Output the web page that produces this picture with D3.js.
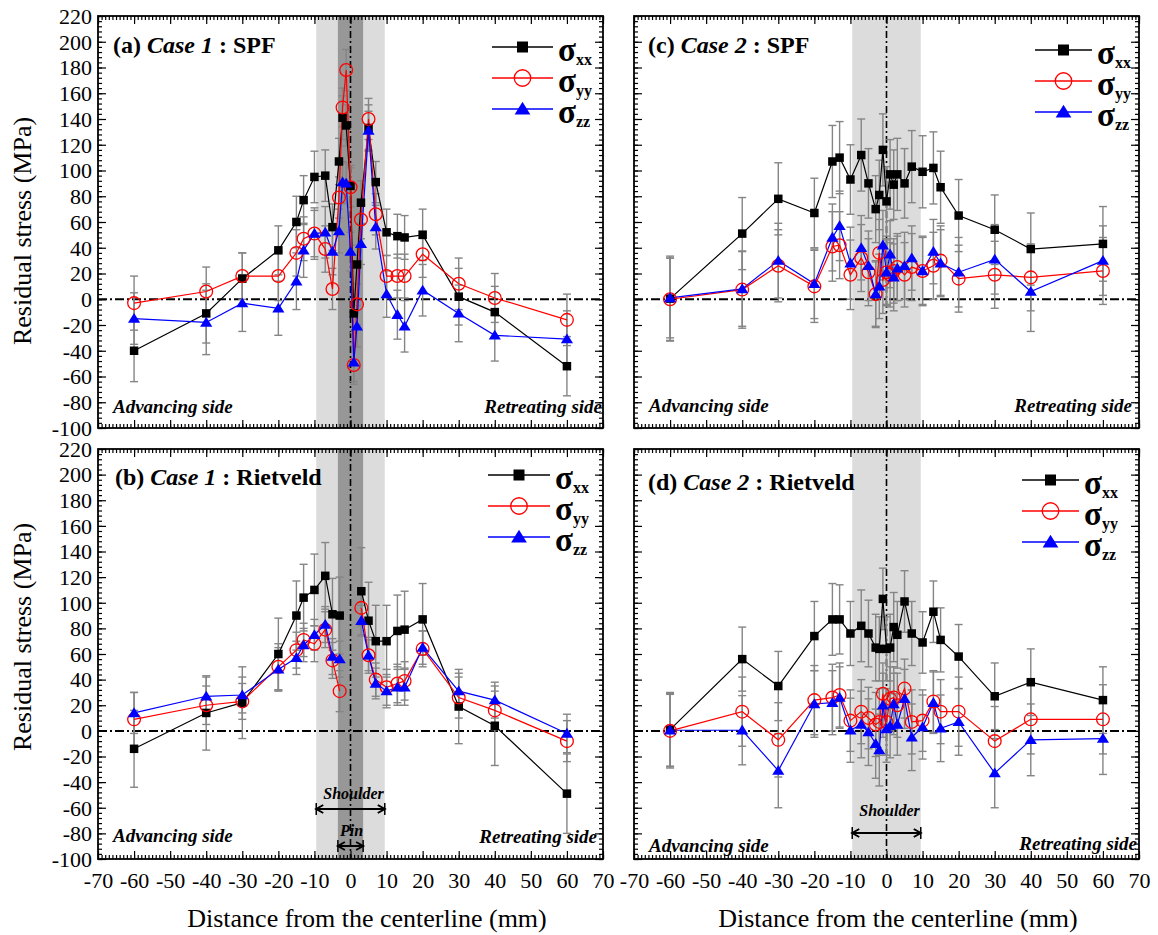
<!DOCTYPE html>
<html>
<head>
<meta charset="utf-8">
<script src="https://cdn.jsdelivr.net/npm/d3@7"></script>
<style>
  body { margin: 0; background: #fff; }
  svg { display: block; }
  text { font-family: "Liberation Serif", "Times New Roman", serif; }
</style>
</head>
<body>
<div id="chart"></div>
<script>
// tick labels
var xTicks = [-70, -60, -50, -40, -30, -20, -10, 0, 10, 20, 30, 40, 50, 60, 70]
var yTicks = [-100, -80, -60, -40, -20, 0, 20, 40, 60, 80, 100, 120, 140, 160, 180, 200, 220]

// tool zones (mm)
var shoulder = [-9.5, 9.5]
var pin = [-3.5, 3.5]

// (a) Case 1 : SPF
var xA = [-60, -40, -30, -20, -15, -13, -10, -7, -5, -3.2, -2.2, -1.2, 0, 0.9, 1.8, 2.9, 5, 7, 10, 13, 15, 20, 30, 40, 60]
var sxxA = [-40, -11, 16, 38, 60, 77, 95, 96, 56, 107, 141, 135, 88, -11, 27, 75, 133, 91, 52, 49, 48, 50, 2, -10, -52]
var syyA = [-3, 6, 18, 18, 36, 47, 51, 39, 8, 79, 149, 178, 87, -51, -4, 62, 140, 66, 18, 18, 18, 35, 12, 1, -16]
var szzA = [-15, -18, -3, -7, 14, 38, 51, 52, 37, 53, 91, 90, 37, -49, -21, 43, 131, 56, 4, -12, -21, 7, -11, -28, -31]
var exxA = [24, 23, 20, 19, 20, 19, 20, 20, 18, 18, 17, 16, 16, 15, 15, 17, 18, 16, 18, 17, 17, 20, 22, 20, 23]
var eyyA = [21, 19, 18, 19, 18, 17, 18, 18, 16, 16, 15, 16, 15, 15, 16, 15, 16, 16, 16, 17, 17, 18, 20, 19, 20]
var ezzA = [20, 25, 22, 21, 22, 21, 20, 20, 18, 17, 16, 16, 15, 15, 16, 16, 15, 17, 18, 19, 20, 20, 22, 20, 22]

// (b) Case 1 : Rietveld
var xB = [-60, -40, -30, -20, -15, -13, -10, -7, -5, -3, 3, 5, 7, 10, 13, 15, 20, 30, 40, 60]
var sxxB = [-14, 14, 22, 60, 90, 104, 110, 121, 91, 90, 109, 86, 70, 70, 78, 79, 87, 19, 4, -49]
var syyB = [9, 20, 23, 50, 63, 71, 68, 79, 55, 31, 96, 59, 40, 34, 37, 39, 64, 26, 16, -8]
var szzB = [14, 27, 28, 48, 57, 67, 75, 83, 58, 56, 86, 59, 37, 31, 34, 34, 65, 31, 24, -2]
var exxB = [30, 29, 28, 28, 27, 26, 28, 26, 28, 30, 34, 30, 28, 28, 28, 30, 28, 29, 31, 31]
var eyyB = [21, 15, 14, 18, 14, 13, 14, 14, 14, 16, 14, 14, 13, 14, 15, 15, 14, 16, 15, 16]
var ezzB = [16, 15, 14, 17, 13, 13, 12, 14, 14, 14, 12, 12, 12, 13, 14, 14, 13, 14, 14, 15]

// (c) Case 2 : SPF
var xC = [-60, -40, -30, -20, -15, -13, -10, -7, -5, -3, -2, -1, 0, 1, 2, 3, 5, 7, 10, 13, 15, 20, 30, 40, 60]
var sxxC = [0.5, 51, 78, 67, 107, 110, 93, 112, 90, 70, 81, 116, 76, 97, 89, 97, 90, 103, 99, 102, 87, 65, 54, 39, 43]
var syyC = [0, 7.5, 26, 10, 41, 42, 19, 32, 21, 4, 36, 15, 21, 19, 22, 25, 19, 25, 22, 26, 30, 16, 19, 17, 22]
var szzC = [1, 8, 30, 12, 48, 57, 28, 40, 26, 4, 10, 42, 21, 35, 17, 24, 26, 32, 22, 37, 28, 21, 31, 6, 30]
var exxC = [33, 28, 28, 27, 28, 28, 27, 28, 27, 26, 27, 28, 27, 27, 27, 28, 27, 28, 28, 28, 28, 28, 27, 28, 29]
var eyyC = [32, 30, 28, 28, 27, 26, 27, 26, 26, 25, 26, 26, 26, 25, 25, 26, 25, 26, 26, 26, 27, 26, 26, 26, 26]
var ezzC = [31, 29, 29, 27, 26, 27, 28, 25, 27, 26, 25, 27, 25, 26, 26, 25, 26, 25, 27, 25, 26, 27, 27, 31, 27]

// (d) Case 2 : Rietveld
var xD = [-60, -40, -30, -20, -15, -13, -10, -7, -5, -3, -2, -1, 0, 1, 2, 3, 5, 7, 10, 13, 15, 20, 30, 40, 60]
var sxxD = [1, 56, 35, 74, 87, 87, 76, 82, 76, 65, 64, 103, 64, 65, 81, 75, 101, 76, 69, 93, 71, 58, 27, 38, 24]
var syyD = [0, 15, -7, 24, 26, 28, 8, 15, 10, 5, 7, 29, 7, 25, 26, 20, 33, 7, 8, 23, 15, 15, -8, 9, 9]
var szzD = [0.5, 0.5, -31, 21, 22, 26, 0.5, 5, -1, -10, -15, 20, 1.5, 4, 21, 5, 25, -5, 3, 22, 2, 7, -33, -7, -6]
var exxD = [29, 25, 27, 27, 28, 27, 25, 28, 26, 26, 25, 24, 25, 26, 27, 26, 24, 25, 24, 24, 25, 25, 26, 26, 26]
var eyyD = [29, 27, 29, 27, 26, 25, 24, 25, 24, 25, 26, 24, 26, 25, 24, 25, 23, 25, 24, 24, 25, 27, 27, 27, 27]
var ezzD = [28, 27, 29, 26, 25, 24, 25, 26, 26, 27, 28, 25, 26, 25, 24, 24, 23, 26, 25, 24, 26, 26, 27, 28, 28]

var panels = [
  { label: '(a) ', cs: 'Case 1', method: ' : SPF', left: 98, top: 16, bottom: 428,
    x: xA, xx: sxxA, yy: syyA, zz: szzA, exx: exxA, eyy: eyyA, ezz: ezzA,
    pin: true, yLabels: true, xLabels: false, titleX: 113, titleY: 53,
    advY: 413, retX: 602, retY: 413, legend: { x1: 492, x2: 553, y: 47 } },
  { label: '(b) ', cs: 'Case 1', method: ' : Rietveld', left: 98, top: 449, bottom: 859,
    x: xB, xx: sxxB, yy: syyB, zz: szzB, exx: exxB, eyy: eyyB, ezz: ezzB,
    pin: true, yLabels: true, xLabels: true, titleX: 115, titleY: 485, gap: [-3, 3],
    advY: 842, retX: 597, retY: 843, legend: { x1: 488, x2: 550, y: 475 },
    shoulderNote: { textY: 799, arrowY: 809 }, pinNote: { textY: 836, arrowY: 846 } },
  { label: '(c) ', cs: 'Case 2', method: ' : SPF', left: 634, top: 16, bottom: 428,
    x: xC, xx: sxxC, yy: syyC, zz: szzC, exx: exxC, eyy: eyyC, ezz: ezzC,
    pin: false, yLabels: false, xLabels: false, titleX: 648, titleY: 53,
    advY: 412, retX: 1132, retY: 412, legend: { x1: 1035, x2: 1092, y: 50 } },
  { label: '(d) ', cs: 'Case 2', method: ' : Rietveld', left: 634, top: 449, bottom: 859,
    x: xD, xx: sxxD, yy: syyD, zz: szzD, exx: exxD, eyy: eyyD, ezz: ezzD,
    pin: false, yLabels: false, xLabels: true, titleX: 648, titleY: 490,
    advY: 852, retX: 1137, retY: 850, legend: { x1: 1022, x2: 1079, y: 480 },
    shoulderNote: { textY: 816, arrowY: 833 } }
]

var series = [
  { key: 'xx', color: '#000000', shape: 'square' },
  { key: 'yy', color: '#ff0000', shape: 'circle' },
  { key: 'zz', color: '#0000ff', shape: 'triangle' }
]

var svg = d3.select('#chart').append('svg')
  .attr('width', 1158)
  .attr('height', 935)

function marker (sel, shape, color, s) {
  if (shape === 'square') {
    sel.append('rect')
      .attr('x', -s / 2).attr('y', -s / 2)
      .attr('width', s).attr('height', s)
      .attr('fill', color)
  } else if (shape === 'circle') {
    sel.append('circle')
      .attr('r', s * 0.75)
      .attr('fill', 'none')
      .attr('stroke', color)
      .attr('stroke-width', 1.3)
  } else {
    var h = s * 1.1
    sel.append('path')
      .attr('d', 'M0,' + (-h * 0.6) + 'L' + (h * 0.65) + ',' + (h * 0.45) + 'L' + (-h * 0.65) + ',' + (h * 0.45) + 'Z')
      .attr('fill', color)
  }
}

function arrow (g, x1, x2, yy) {
  g.append('line').attr('x1', x1).attr('x2', x2).attr('y1', yy).attr('y2', yy)
    .attr('stroke', '#000').attr('stroke-width', 2)
  g.append('path')
    .attr('d', 'M' + (x1 + 7) + ',' + (yy - 4) + 'L' + x1 + ',' + yy + 'L' + (x1 + 7) + ',' + (yy + 4) +
      'M' + (x2 - 7) + ',' + (yy - 4) + 'L' + x2 + ',' + yy + 'L' + (x2 - 7) + ',' + (yy + 4))
    .attr('fill', 'none').attr('stroke', '#000').attr('stroke-width', 2)
  g.append('line').attr('x1', x1).attr('x2', x1).attr('y1', yy - 6).attr('y2', yy + 6)
    .attr('stroke', '#000').attr('stroke-width', 1.5)
  g.append('line').attr('x1', x2).attr('x2', x2).attr('y1', yy - 6).attr('y2', yy + 6)
    .attr('stroke', '#000').attr('stroke-width', 1.5)
}

// plain hyphen minus like the original
function plain (d) { return String(d) }

panels.forEach(function (p) {
  var width = 505
  var x = d3.scaleLinear().domain([-70, 70]).range([p.left, p.left + width])
  var y = d3.scaleLinear().domain([-100, 220]).range([p.bottom, p.top])
  var g = svg.append('g')

  // shoulder and pin bands
  g.append('rect')
    .attr('x', x(shoulder[0])).attr('y', p.top)
    .attr('width', x(shoulder[1]) - x(shoulder[0])).attr('height', p.bottom - p.top)
    .attr('fill', '#dcdcdc')
  if (p.pin) {
    g.append('rect')
      .attr('x', x(pin[0])).attr('y', p.top)
      .attr('width', x(pin[1]) - x(pin[0])).attr('height', p.bottom - p.top)
      .attr('fill', '#979797')
  }

  // dash-dot reference lines
  g.append('line')
    .attr('x1', x(-70)).attr('x2', x(70)).attr('y1', y(0)).attr('y2', y(0))
    .attr('stroke', '#000').attr('stroke-width', 2)
    .attr('stroke-dasharray', '9,3,2,3')
  g.append('line')
    .attr('x1', x(0)).attr('x2', x(0)).attr('y1', p.top).attr('y2', p.bottom)
    .attr('stroke', '#000').attr('stroke-width', 1.6)
    .attr('stroke-dasharray', '7,3,2,3')

  // error bars
  series.forEach(function (s) {
    var vals = p[s.key], errs = p['e' + s.key]
    var eb = g.append('g').attr('stroke', '#858585').attr('stroke-width', 1.4)
    p.x.forEach(function (xv, i) {
      var cx = x(xv), y1 = y(vals[i] + errs[i]), y2 = y(vals[i] - errs[i])
      eb.append('line').attr('x1', cx).attr('x2', cx).attr('y1', y1).attr('y2', y2)
      eb.append('line').attr('x1', cx - 4).attr('x2', cx + 4).attr('y1', y1).attr('y2', y1)
      eb.append('line').attr('x1', cx - 4).attr('x2', cx + 4).attr('y1', y2).attr('y2', y2)
    })
  })

  // series lines
  series.forEach(function (s) {
    var pts = []
    p.x.forEach(function (xv, i) {
      if (p.gap && i > 0 && p.x[i - 1] === p.gap[0] && xv === p.gap[1]) pts.push(null)
      pts.push([xv, p[s.key][i]])
    })
    var line = d3.line()
      .defined(function (d) { return d !== null })
      .x(function (d) { return x(d[0]) })
      .y(function (d) { return y(d[1]) })
    g.append('path')
      .datum(pts)
      .attr('d', line)
      .attr('fill', 'none')
      .attr('stroke', s.color)
      .attr('stroke-width', 1.2)
  })

  // markers
  series.forEach(function (s) {
    p.x.forEach(function (xv, i) {
      var m = g.append('g').attr('transform', 'translate(' + x(xv) + ',' + y(p[s.key][i]) + ')')
      marker(m, s.shape, s.color, 8.5)
    })
  })

  // axes: major ticks inward, minor ticks, mirrored
  var minorX = d3.range(-70, 71, 1)
  var minorY = d3.range(-100, 221, 4)
  var ax = g.append('g').attr('class', 'axes')

  ax.append('g')
    .attr('transform', 'translate(0,' + p.bottom + ')')
    .call(d3.axisBottom(x).tickValues(minorX).tickSize(-4).tickFormat(''))
  ax.append('g')
    .attr('transform', 'translate(0,' + p.top + ')')
    .call(d3.axisTop(x).tickValues(minorX).tickSize(-4).tickFormat(''))
  ax.append('g')
    .attr('transform', 'translate(' + p.left + ',0)')
    .call(d3.axisLeft(y).tickValues(minorY).tickSize(-4).tickFormat(''))
  ax.append('g')
    .attr('transform', 'translate(' + (p.left + width) + ',0)')
    .call(d3.axisRight(y).tickValues(minorY).tickSize(-4).tickFormat(''))

  ax.append('g')
    .attr('transform', 'translate(0,' + p.bottom + ')')
    .call(d3.axisBottom(x).tickValues(xTicks).tickSizeInner(-8).tickSizeOuter(0).tickPadding(13)
      .tickFormat(p.xLabels ? plain : ''))
  ax.append('g')
    .attr('transform', 'translate(0,' + p.top + ')')
    .call(d3.axisTop(x).tickValues(xTicks).tickSizeInner(-8).tickSizeOuter(0).tickFormat(''))
  var yl = ax.append('g')
    .attr('transform', 'translate(' + p.left + ',0)')
    .call(d3.axisLeft(y).tickValues(yTicks).tickSizeInner(-8).tickSizeOuter(0).tickPadding(6)
      .tickFormat(p.yLabels ? plain : ''))
  ax.append('g')
    .attr('transform', 'translate(' + (p.left + width) + ',0)')
    .call(d3.axisRight(y).tickValues(yTicks).tickSizeInner(-8).tickSizeOuter(0).tickFormat(''))

  ax.selectAll('.domain').remove()
  ax.selectAll('line').attr('stroke', '#000').attr('stroke-width', 1.2)
  ax.selectAll('text')
    .style('font-family', '"Liberation Serif", "Times New Roman", serif')
    .style('font-size', '22px')
    .attr('fill', '#000')
  yl.selectAll('text').attr('dy', '0.33em')

  // frame
  g.append('rect')
    .attr('x', p.left).attr('y', p.top)
    .attr('width', width).attr('height', p.bottom - p.top)
    .attr('fill', 'none').attr('stroke', '#000').attr('stroke-width', 1.8)

  // panel title
  var t = g.append('text')
    .attr('x', p.titleX).attr('y', p.titleY)
    .style('font-size', '24px').style('font-weight', 'bold')
  t.append('tspan').text(p.label)
  t.append('tspan').style('font-style', 'italic').text(p.cs)
  t.append('tspan').text(p.method)

  // side notes
  g.append('text')
    .attr('x', p.left + 15).attr('y', p.advY)
    .style('font-size', '19px').style('font-weight', 'bold').style('font-style', 'italic')
    .text('Advancing side')
  g.append('text')
    .attr('x', p.retX).attr('y', p.retY)
    .attr('text-anchor', 'end')
    .style('font-size', '19px').style('font-weight', 'bold').style('font-style', 'italic')
    .text('Retreating side')

  // tool annotations
  if (p.shoulderNote) {
    g.append('text')
      .attr('x', (x(shoulder[0]) + x(shoulder[1])) / 2 + 3).attr('y', p.shoulderNote.textY)
      .attr('text-anchor', 'middle')
      .style('font-size', '16px').style('font-weight', 'bold').style('font-style', 'italic')
      .text('Shoulder')
    arrow(g, x(shoulder[0]), x(shoulder[1]), p.shoulderNote.arrowY)
  }
  if (p.pinNote) {
    g.append('text')
      .attr('x', x(0) + 1).attr('y', p.pinNote.textY)
      .attr('text-anchor', 'middle')
      .style('font-size', '16px').style('font-weight', 'bold').style('font-style', 'italic')
      .text('Pin')
    arrow(g, x(pin[0]), x(pin[1]), p.pinNote.arrowY)
  }

  // legend
  var lg = g.append('g')
  series.forEach(function (s, i) {
    var ly = p.legend.y + i * 31
    lg.append('line')
      .attr('x1', p.legend.x1).attr('x2', p.legend.x2).attr('y1', ly).attr('y2', ly)
      .attr('stroke', s.color).attr('stroke-width', 1.3)
    var m = lg.append('g').attr('transform', 'translate(' + (p.legend.x1 + p.legend.x2) / 2 + ',' + ly + ')')
    marker(m, s.shape, s.color, 11)
    var lt = lg.append('text')
      .attr('x', p.legend.x2 + 5).attr('y', ly + 14)
      .style('font-weight', 'bold')
    lt.append('tspan').style('font-size', '33px').text('σ')
    lt.append('tspan').style('font-size', '16px').attr('dy', 4).text(s.key)
  })
})

// axis titles
svg.append('text')
  .attr('transform', 'translate(31,231)rotate(-90)')
  .attr('text-anchor', 'middle')
  .style('font-size', '26px')
  .text('Residual stress (MPa)')
svg.append('text')
  .attr('transform', 'translate(31,637)rotate(-90)')
  .attr('text-anchor', 'middle')
  .style('font-size', '26px')
  .text('Residual stress (MPa)')
svg.append('text')
  .attr('x', 367).attr('y', 927)
  .attr('text-anchor', 'middle')
  .style('font-size', '26px')
  .text('Distance from the centerline (mm)')
svg.append('text')
  .attr('x', 898).attr('y', 927)
  .attr('text-anchor', 'middle')
  .style('font-size', '26px')
  .text('Distance from the centerline (mm)')
</script>
</body>
</html>
